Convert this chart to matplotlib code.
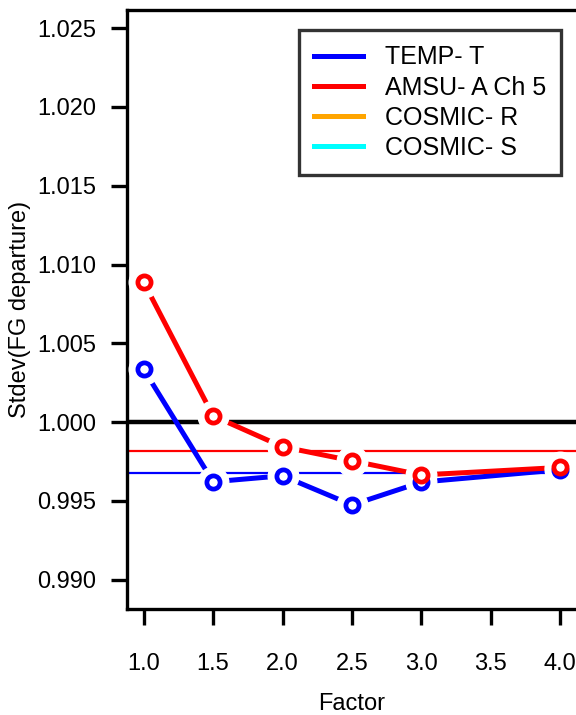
import matplotlib
matplotlib.use("Agg")
import matplotlib.pyplot as plt

# ==============================
# DATA
# ==============================

factor = [1.0, 1.5, 2.0, 2.5, 3.0, 4.0, 5.0]
temp_t = [1.00335, 0.99622, 0.99660, 0.99475, 0.99620, 0.99698, 0.99702]
amsu_a = [1.00888, 1.00040, 0.99844, 0.99755, 0.99665, 0.99713, 0.99716]

temp_ref = 0.99675
amsu_ref = 0.99816

legend_labels = ["TEMP- T", "AMSU- A Ch 5", "COSMIC- R", "COSMIC- S"]
legend_colors = ["#0000ff", "#ff0000", "#ffa500", "#00ffff"]

xticks = [1.0, 1.5, 2.0, 2.5, 3.0, 3.5, 4.0]
yticks = [0.990, 0.995, 1.000, 1.005, 1.010, 1.015, 1.020, 1.025]

# ==============================
# PLOT
# ==============================

plt.rcParams["font.family"] = ["Liberation Sans", "DejaVu Sans"]
plt.rcParams["font.size"] = 17

fig = plt.figure(figsize=(5.76, 7.15), dpi=100)
ax = fig.add_axes([0.2205, 0.1483, 0.7813, 0.8377])

ax.axhline(1.0, color="black", lw=3.2, zorder=2)
ax.axhline(amsu_ref, color="#ff0000", lw=1.6, zorder=2)
ax.axhline(temp_ref, color="#0000ff", lw=1.6, zorder=2)

# type "b": lines broken around the points
for y, c in [(temp_t, "#0000ff"), (amsu_a, "#ff0000")]:
    ax.plot(factor, y, color=c, lw=3.6, solid_capstyle="butt", zorder=3)
    ax.plot(factor, y, ls="none", marker="o", ms=22, mfc="white", mec="white", zorder=4)
    ax.plot(factor, y, ls="none", marker="o", ms=9.5, mfc="white", mec=c, mew=3.4, zorder=5)

ax.set_xlim(0.88, 4.12)
ax.set_ylim(0.98815, 1.02615)
ax.set_xticks(xticks)
ax.set_xticklabels([f"{v:.1f}" for v in xticks])
ax.set_yticks(yticks)
ax.set_yticklabels([f"{v:.3f}" for v in yticks])
ax.tick_params(length=11.5, width=2.4, pad=11)
ax.tick_params(axis="x", pad=20)
for s in ax.spines.values():
    s.set_linewidth(2.4)

ax.set_xlabel("Factor", labelpad=13)
ax.set_ylabel("Stdev(FG departure)", labelpad=4)

handles = [plt.Line2D([], [], color=c, lw=3.6) for c in legend_colors]
leg = ax.legend(handles, legend_labels, loc="upper right", fontsize=18,
                bbox_to_anchor=(0.965, 0.966), frameon=True, fancybox=False,
                handlelength=1.95, handletextpad=0.9, borderpad=0.6,
                labelspacing=0.25, borderaxespad=0)
leg.get_frame().set_edgecolor("black")
leg.get_frame().set_linewidth(2.4)

fig.savefig("out.png", dpi=100)
